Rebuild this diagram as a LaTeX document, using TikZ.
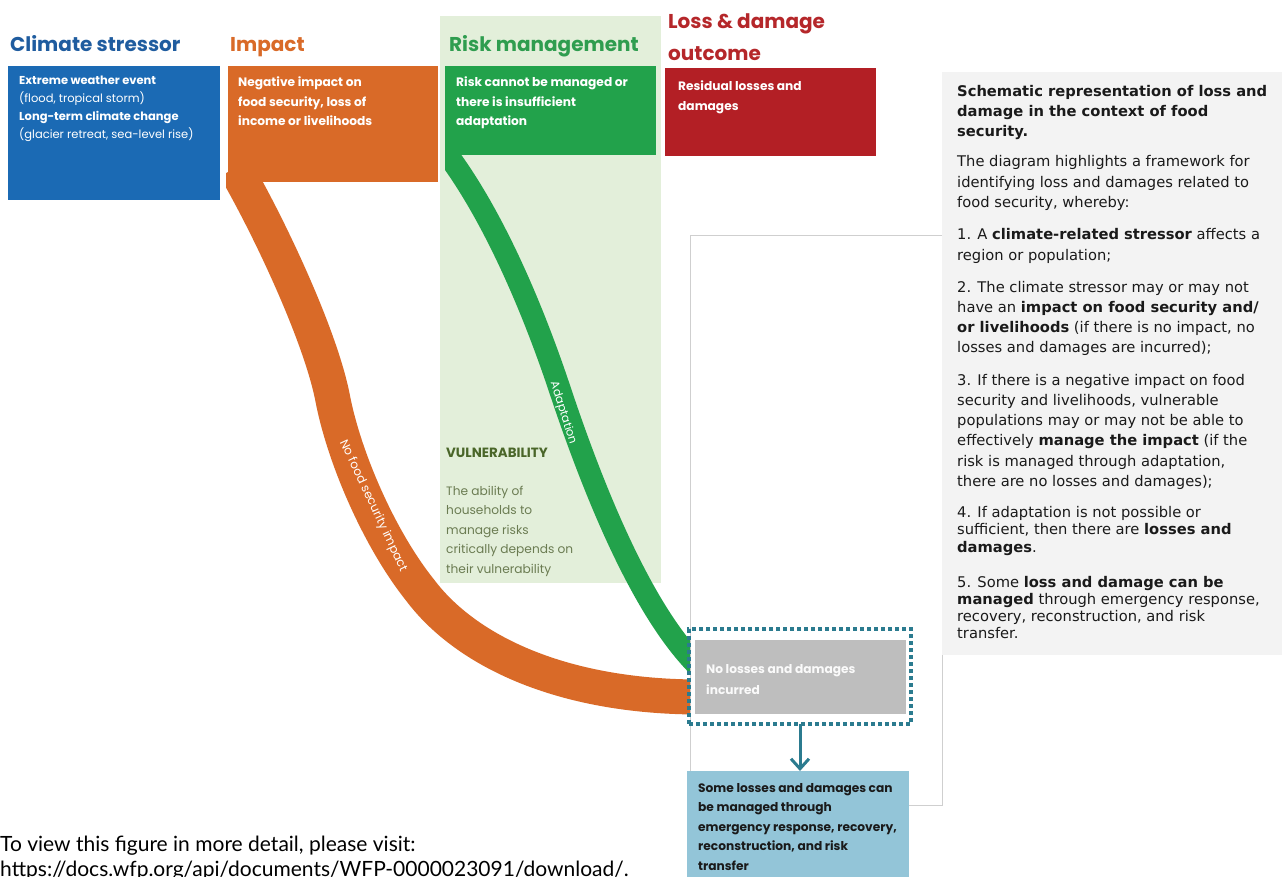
\documentclass[tikz,border=0pt]{standalone}
\usepackage{fontspec}
\setmainfont{DejaVu Sans}
\newfontfamily\geofont{Poppins}
\newfontfamily\latofont{Lato}
\usetikzlibrary{arrows.meta}
\definecolor{stressblue}{HTML}{1B6AB4}
\definecolor{stresstitle}{HTML}{1F5C9F}
\definecolor{impactorange}{HTML}{D96A28}
\definecolor{riskgreen}{HTML}{22A24B}
\definecolor{risktitle}{HTML}{2F9D4F}
\definecolor{riskbg}{HTML}{E3EFDA}
\definecolor{lossred}{HTML}{B31F25}
\definecolor{losstitle}{HTML}{B5272A}
\definecolor{panelgray}{HTML}{F3F3F3}
\definecolor{nolossgray}{HTML}{BEBEBE}
\definecolor{dotteal}{HTML}{2B7B8F}
\definecolor{mgmtblue}{HTML}{93C5D8}
\definecolor{vulngreen}{HTML}{4A6629}
\definecolor{vulntext}{HTML}{6B7C52}
\definecolor{framegray}{HTML}{CFCFCF}
\definecolor{paneltextcol}{HTML}{1A1A1A}

\begin{document}
\begin{tikzpicture}[x=1pt,y=-1pt,
    box/.style={anchor=north west,outer sep=0pt},
    coltitle/.style={anchor=base west,align=left,font=\geofont\bfseries\fontsize{20}{32}\selectfont},
    boxtext/.style={anchor=base west,align=left,text=white,font=\geofont\bfseries\fontsize{12.2}{19.5}\selectfont},
    bandtext/.style={text=white,font=\geofont\fontsize{11.5}{11.5}\selectfont},
    paneltext/.style={anchor=base west,align=left,text=paneltextcol,font=\fontsize{14.7}{20.3}\selectfont},
    band/.style={line cap=butt}]
    \tikzstyle{every node}+=[inner sep=0pt]
    \useasboundingbox (0,0) rectangle (1282,877);
    \fill [white] (0,0) rectangle (1282,877);

    \node [box,fill=riskbg,minimum width=221,minimum height=567] (riskbg) at (440,16) {};
    \draw [framegray,line width=1] (690,236) rectangle (942,805);

    \coordinate (orangestart) at (235,168);
    \coordinate (orangeend) at (700,697);
    \coordinate (greenstart) at (444,150);
    \coordinate (greenend) at (700,668);
    \begin{scope}
        \clip (226,0) rectangle (690,877);
        \draw [band,impactorange,line width=35] (orangestart) .. controls (272,232) and (322,340) .. (333,400) .. controls (345,460) and (380,540) .. (420,590) .. controls (465,650) and (560,697) .. (orangeend);
    \end{scope}
    \begin{scope}
        \clip (445,0) rectangle (690,877);
        \draw [band,riskgreen,line width=22] (greenstart) .. controls (490,210) and (530,300) .. (560,390) .. controls (590,480) and (640,610) .. (greenend);
    \end{scope}

    \node [box,fill=stressblue,minimum width=212,minimum height=134] (stress) at (8,66) {};
    \node [box,fill=impactorange,minimum width=210,minimum height=116] (impact) at (228,66) {};
    \node [box,fill=riskgreen,minimum width=211,minimum height=89] (risk) at (445,66) {};
    \node [box,fill=lossred,minimum width=211,minimum height=88] (loss) at (665,68) {};

    \node [coltitle,text=stresstitle] (stresstitle) at (10,52) {Climate stressor};
    \node [coltitle,text=impactorange] (impacttitle) at (230,52) {Impact};
    \node [coltitle,text=risktitle] (risktitle) at (449,52) {Risk management};
    \node [coltitle,text=losstitle] (losstitle) at (668,61) {Loss \& damage\\outcome};

    \node [boxtext,font=\geofont\fontsize{11.5}{18}\selectfont] (stresstext) at (19,139) {\textbf{Extreme weather event}\\(flood, tropical storm)\\\textbf{Long-term climate change}\\(glacier retreat, sea-level rise)};
    \node [boxtext] (impacttext) at (238,126) {Negative impact on\\food security, loss of\\income or livelihoods};
    \node [boxtext] (risktext) at (456,126) {Risk cannot be managed or\\there is insufficient\\adaptation};
    \node [boxtext] (losstext) at (678,110.5) {Residual losses and\\damages};

    \node [anchor=base west,text=vulngreen,font=\geofont\bfseries\fontsize{13.4}{14}\selectfont] (vulntitle) at (446,457) {VULNERABILITY};
    \node [anchor=base west,align=left,text=vulntext,font=\geofont\fontsize{12.2}{19.5}\selectfont] (vulntext) at (446,573) {The ability of\\households to\\manage risks\\critically depends on\\their vulnerability};

    \node [bandtext,rotate=-72.5] (adaptlabel) at (563,413) {Adaptation};
    \node [bandtext,font=\geofont\fontsize{12}{12}\selectfont,rotate=-64.8] (nofoodlabel) at (373,506) {No food security impact};

    \node [box,fill=nolossgray,minimum width=211,minimum height=74] (nolossbox) at (695,640) {};
    \node [box,draw=dotteal,line width=4,dash pattern=on 4pt off 3pt,minimum width=222,minimum height=95] (noloss) at (689,629) {};
    \node [boxtext,text=white!92!nolossgray,font=\geofont\bfseries\fontsize{12.2}{21}\selectfont] (nolosstext) at (706,694) {No losses and damages\\incurred};

    \node [box,fill=mgmtblue,minimum width=222,minimum height=110] (mgmt) at (687,771) {};
    \node [boxtext,text=paneltextcol] (mgmttext) at (698,870) {Some losses and damages can\\be managed through\\emergency response, recovery,\\reconstruction, and risk\\transfer};
    \draw [dotteal,line width=3,-{Straight Barb[length=10pt,width=18pt]}] (noloss.south) -- (noloss.south |- mgmt.north);

    \node [box,fill=panelgray,minimum width=340,minimum height=583] (panel) at (942,72) {};
    \node [paneltext,font=\bfseries\fontsize{14.7}{20}\selectfont] (paneltitle) at (957,137) {Schematic representation of loss and\\damage in the context of food\\security.};
    \node [paneltext] (intro) at (957,207.6) {The diagram highlights a framework for\\identifying loss and damages related to\\food security, whereby:};
    \node [paneltext] (stepone) at (957,260.3) {1. A \textbf{climate-related stressor} affects a\\region or population;};
    \node [paneltext] (steptwo) at (957,352.9) {2. The climate stressor may or may not\\have an \textbf{impact on food security and/}\\\textbf{or livelihoods} (if there is no impact, no\\losses and damages are incurred);};
    \node [paneltext] (stepthree) at (957,486.5) {3. If there is a negative impact on food\\security and livelihoods, vulnerable\\populations may or may not be able to\\effectively \textbf{manage the impact} (if the\\risk is managed through adaptation,\\there are no losses and damages);};
    \node [paneltext,font=\fontsize{14.7}{17.5}\selectfont] (stepfour) at (957,552) {4. If adaptation is not possible or\\sufficient, then there are \textbf{losses and}\\\textbf{damages}.};
    \node [paneltext,font=\fontsize{14.7}{17}\selectfont] (stepfive) at (957,638) {5. Some \textbf{loss and damage can be}\\\textbf{managed} through emergency response,\\recovery, reconstruction, and risk\\transfer.};

    \node [anchor=base west,align=left,font=\latofont\fontsize{21}{25}\selectfont] (footnote) at (0,876) {To view this figure in more detail, please visit:\\https://docs.wfp.org/api/documents/WFP-0000023091/download/.};
\end{tikzpicture}
\end{document}
